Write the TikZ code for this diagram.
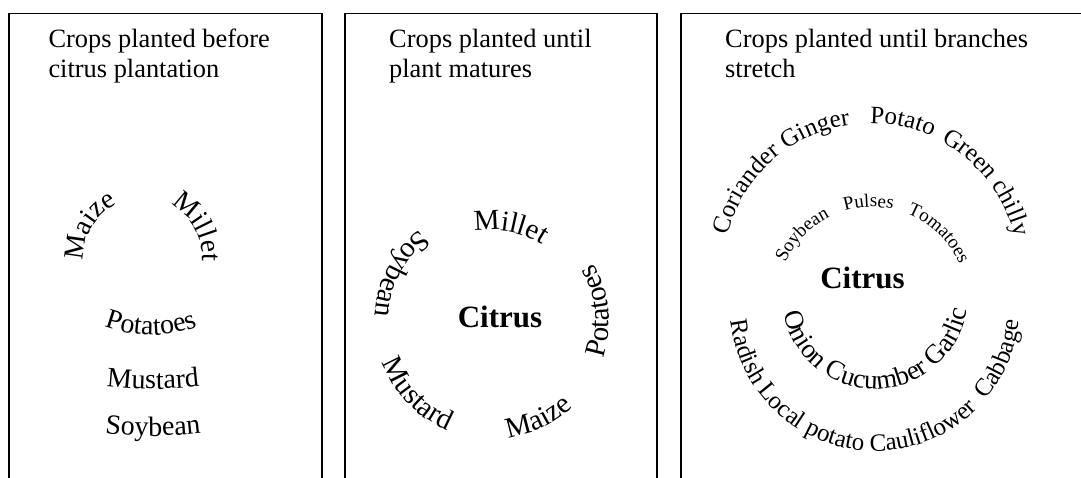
\documentclass[tikz,border=0pt]{standalone}
\usepackage{fontspec}
\setmainfont{Liberation Serif}
\usetikzlibrary{decorations.text}
\newcommand\panelfont{\fontsize{26.4}{30}\selectfont}
\newcommand\cropfont{\fontsize{28}{32}\selectfont}
\newcommand\ringfont{\fontsize{29}{33}\selectfont}
\newcommand\outerfont{\fontsize{25}{29}\selectfont}
\newcommand\innerfont{\fontsize{19}{22}\selectfont}
\newcommand\onionfont{\fontsize{27}{31}\selectfont}

\begin{document}
\begin{tikzpicture}[x=1pt,y=1pt,
      panel/.style={line width=1.8pt},
      caption/.style={anchor=base west,align=left,inner sep=0pt,font=\panelfont},
      hub/.style={anchor=base,inner sep=0pt,font=\bfseries\fontsize{31}{34}\selectfont},
      word/.style={decorate,decoration={text along path,text align=center,text={#1}}}]
    \useasboundingbox (0,0) rectangle (1081,477);
    \clip (0,0) rectangle (1081,477);
    % three frames, open at the bottom
    \draw[panel] (9,-10) -- (9,463.5) -- (322,463.5) -- (322,-10);
    \draw[panel] (345,-10) -- (345,463.5) -- (657,463.5) -- (657,-10);
    \draw[panel] (681,-10) -- (681,463.5) -- (1090,463.5);

    % before citrus
    \node[caption] (cap1) at (48.3,399) {Crops planted before\\citrus plantation};
    \coordinate (c1) at (143,220);
    \path[word={|\cropfont|Maize}] (c1) ++(200:59) arc[start angle=200,end angle=100,radius=59];
    \path[word={|\cropfont|Millet}] (c1) ++(79:59) arc[start angle=79,end angle=-21,radius=59];
    \path[word={|\cropfont|Potatoes}] (151,272) ++(235:130) arc[start angle=235,end angle=305,radius=130];
    \path[word={|\cropfont|Mustard}] (153,488) ++(255:400) arc[start angle=255,end angle=285,radius=400];
    \path[word={|\cropfont|Soybean}] (153,441) ++(255:400) arc[start angle=255,end angle=285,radius=400];

    % until the plant matures
    \node[caption] (cap2) at (389,399) {Crops planted until\\plant matures};
    \coordinate (c2) at (492,155);
    \node[hub] (cit2) at (500,150) {Citrus};
    \path[word={|\ringfont|Millet}] (c2) ++(124:92) arc[start angle=124,end angle=34,radius=92];
    \path[word={|\ringfont|Soybean}] (c2) ++(102.5:117) arc[start angle=102.5,end angle=202.5,radius=117];
    \path[word={|\ringfont|Mustard}] (c2) ++(179:117) arc[start angle=179,end angle=269,radius=117];
    \path[word={|\ringfont|Maize}] (c2) ++(256:117) arc[start angle=256,end angle=336,radius=117];
    \path[word={|\ringfont|Potatoes}] (c2) ++(321:117) arc[start angle=321,end angle=411,radius=117];

    % until the branches stretch
    \node[caption] (cap3) at (725,399) {Crops planted until branches\\stretch};
    \coordinate (top3) at (871,205.5);
    \coordinate (bot3) at (875,171);
    \coordinate (in3) at (872,175);
    \coordinate (low3) at (875,181);
    \node[hub] (cit3) at (862.5,189) {Citrus};
    \path[word={|\outerfont|Coriander Ginger}] (top3) ++(182:148) arc[start angle=182,end angle=82,radius=148];
    \path[word={|\outerfont|Potato}] (top3) ++(103:148) arc[start angle=103,end angle=53,radius=148];
    \path[word={|\outerfont|Green chilly}] (top3) ++(72:148) arc[start angle=72,end angle=3,radius=148];
    \path[word={|\innerfont|Soybean}] (in3) ++(161:95) arc[start angle=161,end angle=111,radius=95];
    \path[word={|\innerfont|Pulses}] (in3) ++(117:95) arc[start angle=117,end angle=67,radius=95];
    \path[word={|\innerfont|Tomatoes}] (in3) ++(75.7:95) arc[start angle=75.7,end angle=15.7,radius=95];
    \path[word={|\onionfont|Onion Cucumber Garlic}] (low3) ++(185:93) arc[start angle=185,end angle=357,radius=93];
    \path[word={|\outerfont|Radish Local potato Cauliflower}] (bot3) ++(170:145) arc[start angle=170,end angle=331,radius=145];
    \path[word={|\outerfont|Cabbage}] (bot3) ++(312:145) arc[start angle=312,end angle=362,radius=145];
\end{tikzpicture}
\end{document}
